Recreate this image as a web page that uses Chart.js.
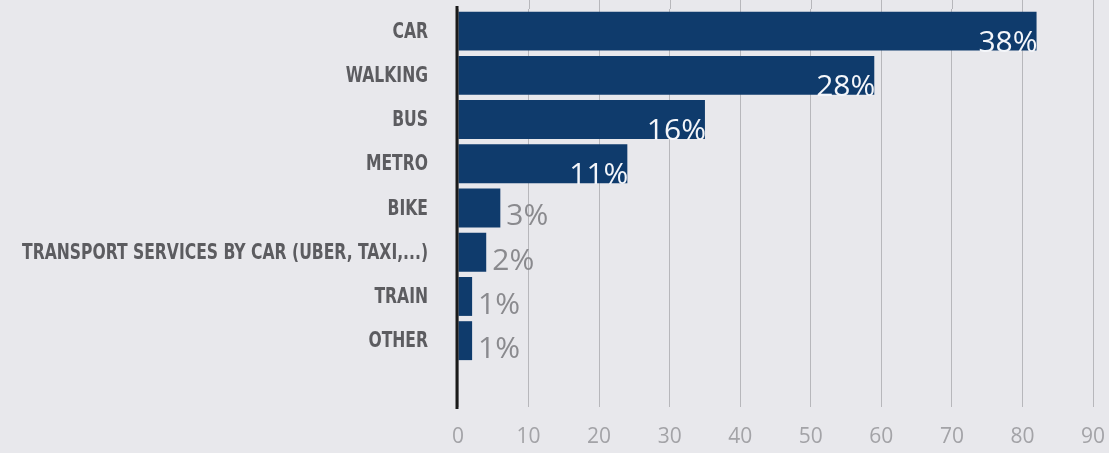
<!DOCTYPE html>
<html>
<head>
<meta charset="utf-8">
<script src="https://cdn.jsdelivr.net/npm/chart.js@4/dist/chart.umd.min.js"></script>
<style>
  html, body { margin: 0; padding: 0; background: #e8e8ec; }
  #wrap { width: 1109px; height: 453px; position: relative; }
</style>
</head>
<body>
<div id="wrap"><canvas id="c" width="1109" height="453"></canvas></div>
<script>
const categories = ["CAR", "WALKING", "BUS", "METRO", "BIKE", "TRANSPORT SERVICES BY CAR (UBER, TAXI,...)", "TRAIN", "OTHER", ""];
const values = [82, 59, 35, 24, 6, 4, 2, 2, null];
const percentLabels = ["38%", "28%", "16%", "11%", "3%", "2%", "1%", "1%", ""];
const xTicks = [0, 10, 20, 30, 40, 50, 60, 70, 80, 90];

const BAR = "#0f3b6c";
const BG = "#e8e8ec";
const CAT_FONT = "bold 22px 'DejaVu Sans Condensed', 'DejaVu Sans', sans-serif";
const LONGEST_TARGET_WIDTH = 406;

const bgPlugin = {
  id: "bg",
  beforeDraw(chart) {
    const ctx = chart.ctx;
    ctx.save();
    ctx.fillStyle = BG;
    ctx.fillRect(0, 0, chart.width, chart.height);
    const xs = chart.scales.x;
    ctx.strokeStyle = "#b7b7bb";
    ctx.lineWidth = 1;
    xTicks.forEach(v => {
      if (v === 0) return;
      const px = Math.round(xs.getPixelForValue(v)) + 0.5;
      ctx.beginPath();
      ctx.moveTo(px, 0);
      ctx.lineTo(px, chart.chartArea.top);
      ctx.stroke();
    });
    ctx.restore();
  }
};

const catLabelPlugin = {
  id: "catLabels",
  afterDraw(chart) {
    const ctx = chart.ctx;
    const ys = chart.scales.y;
    ctx.save();
    ctx.font = CAT_FONT;
    let maxW = 0;
    categories.forEach(c => { maxW = Math.max(maxW, ctx.measureText(c).width); });
    const sx = Math.min(1, LONGEST_TARGET_WIDTH / maxW);
    const rightX = chart.chartArea.left - 30;
    ctx.fillStyle = "#5c5c60";
    ctx.textAlign = "right";
    ctx.textBaseline = "middle";
    categories.forEach((c, i) => {
      if (!c) return;
      const py = ys.getPixelForValue(i) + 1;
      ctx.save();
      ctx.translate(rightX, py);
      ctx.scale(sx, 1);
      ctx.fillText(c, 0, 0);
      ctx.restore();
    });
    ctx.restore();
  }
};

const labelPlugin = {
  id: "valLabels",
  afterDatasetsDraw(chart) {
    const ctx = chart.ctx;
    const meta = chart.getDatasetMeta(0);
    ctx.save();
    ctx.font = "30px 'Open Sans'";
    ctx.textBaseline = "alphabetic";
    meta.data.forEach((bar, i) => {
      const txt = percentLabels[i];
      if (!txt || values[i] == null) return;
      const props = bar.getProps(["x", "y", "base", "height"], true);
      const bottom = props.y + props.height / 2;
      const w = ctx.measureText(txt).width;
      if (props.x - props.base > w + 4) {
        ctx.fillStyle = "#f4f6fa";
        ctx.textAlign = "right";
        ctx.fillText(txt, props.x + 1, bottom + 1);
      } else {
        ctx.fillStyle = "#8a8a8e";
        ctx.textAlign = "left";
        ctx.fillText(txt, props.x + 6, bottom - 2);
      }
    });
    const xs = chart.scales.x;
    const x0 = xs.getPixelForValue(0);
    ctx.strokeStyle = "#1a1a1a";
    ctx.lineWidth = 3;
    ctx.beginPath();
    ctx.moveTo(x0 - 1, chart.chartArea.top - 3);
    ctx.lineTo(x0 - 1, chart.chartArea.bottom + 2);
    ctx.stroke();
    ctx.restore();
  }
};

new Chart(document.getElementById("c"), {
  type: "bar",
  data: {
    labels: categories,
    datasets: [{
      data: values,
      backgroundColor: BAR,
      borderWidth: 0,
      categoryPercentage: 1.0,
      barPercentage: 0.88
    }]
  },
  options: {
    indexAxis: "y",
    responsive: false,
    animation: false,
    devicePixelRatio: 1,
    layout: { autoPadding: false, padding: { top: 9, right: 16, bottom: 0, left: 0 } },
    plugins: { legend: { display: false }, tooltip: { enabled: false } },
    scales: {
      x: {
        min: 0, max: 90,
        afterBuildTicks(scale) { scale.ticks = xTicks.map(v => ({ value: v })); },
        afterFit(scale) { scale.height = 46; scale.paddingLeft = 0; scale.paddingRight = 0; },
        grid: { color: "#b7b7bb", lineWidth: 1, drawTicks: false },
        border: { display: false },
        ticks: {
          color: "#a3a3a7",
          font: { family: "'Open Sans'", size: 21 },
          padding: 17,
          maxRotation: 0
        }
      },
      y: {
        afterFit(scale) { scale.width = 458; scale.paddingTop = 0; scale.paddingBottom = 0; },
        grid: { display: false, drawTicks: false },
        border: { display: false },
        ticks: { display: false }
      }
    }
  },
  plugins: [bgPlugin, labelPlugin, catLabelPlugin]
});
</script>
</body>
</html>
